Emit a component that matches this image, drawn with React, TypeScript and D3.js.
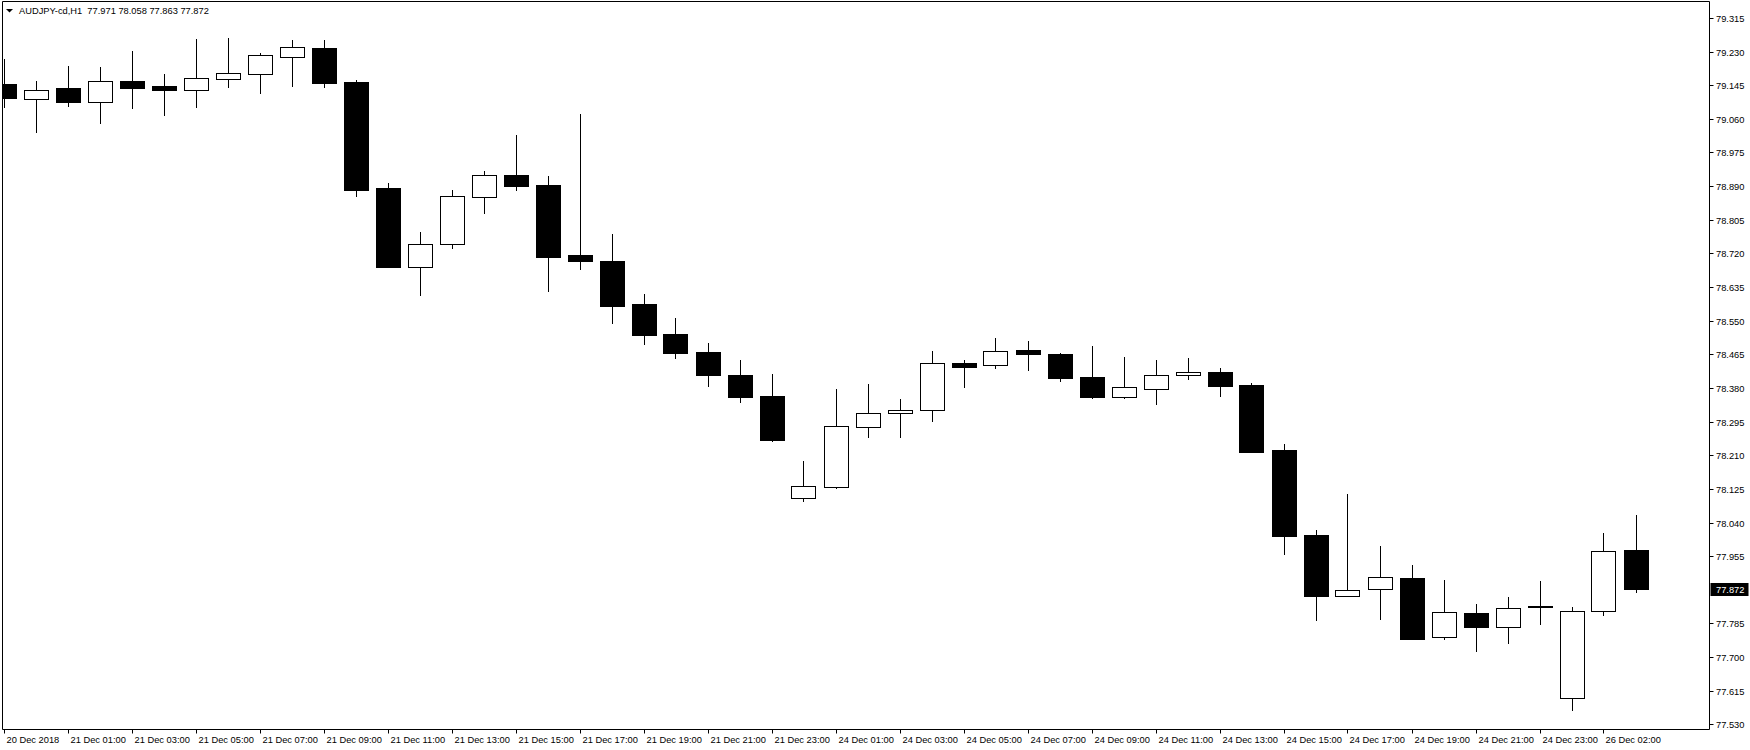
import React from "react";
import * as d3 from "d3";

const symbolTitle = "AUDJPY-cd,H1";
const lastQuote = [77.971, 78.058, 77.863, 77.872];

const opens = [79.148, 79.111, 79.138, 79.103, 79.156, 79.143, 79.134, 79.161, 79.172, 79.217, 79.239, 79.153, 78.885, 78.686, 78.745, 78.862, 78.917, 78.892, 78.715, 78.7, 78.591, 78.516, 78.471, 78.414, 78.359, 78.101, 78.129, 78.281, 78.318, 78.324, 78.443, 78.437, 78.476, 78.466, 78.407, 78.356, 78.377, 78.412, 78.42, 78.388, 78.223, 78.009, 77.854, 77.871, 77.9, 77.75, 77.811, 77.775, 77.826, 77.596, 77.816, 77.971];
const highs = [79.211, 79.156, 79.194, 79.191, 79.231, 79.173, 79.262, 79.264, 79.226, 79.259, 79.259, 79.158, 78.898, 78.774, 78.88, 78.928, 79.019, 78.915, 79.072, 78.769, 78.617, 78.557, 78.494, 78.451, 78.415, 78.196, 78.377, 78.39, 78.352, 78.473, 78.451, 78.506, 78.499, 78.469, 78.486, 78.458, 78.451, 78.456, 78.43, 78.393, 78.238, 78.021, 78.112, 77.981, 77.933, 77.895, 77.834, 77.852, 77.892, 77.827, 78.014, 78.058];
const lows = [79.087, 79.023, 79.09, 79.048, 79.085, 79.067, 79.087, 79.138, 79.123, 79.14, 79.138, 78.862, 78.684, 78.613, 78.732, 78.82, 78.878, 78.623, 78.679, 78.542, 78.489, 78.452, 78.383, 78.343, 78.244, 78.093, 78.126, 78.254, 78.254, 78.295, 78.381, 78.429, 78.424, 78.396, 78.353, 78.353, 78.338, 78.401, 78.358, 78.217, 77.959, 77.79, 77.854, 77.795, 77.744, 77.744, 77.714, 77.734, 77.782, 77.565, 77.805, 77.863];
const closes = [79.113, 79.134, 79.103, 79.156, 79.138, 79.133, 79.162, 79.175, 79.221, 79.241, 79.151, 78.881, 78.686, 78.745, 78.864, 78.917, 78.891, 78.712, 78.702, 78.588, 78.515, 78.469, 78.414, 78.358, 78.249, 78.132, 78.283, 78.318, 78.324, 78.442, 78.434, 78.473, 78.467, 78.406, 78.358, 78.382, 78.412, 78.42, 78.386, 78.219, 78.007, 77.855, 77.869, 77.902, 77.747, 77.813, 77.775, 77.823, 77.83, 77.816, 77.967, 77.872];

const timeTickIndex = [0, 2, 4, 6, 8, 10, 12, 14, 16, 18, 20, 22, 24, 26, 28, 30, 32, 34, 36, 38, 40, 42, 44, 46, 48, 50];
const timeTickLabels = [
  "20 Dec 2018", "21 Dec 01:00", "21 Dec 03:00", "21 Dec 05:00", "21 Dec 07:00", "21 Dec 09:00",
  "21 Dec 11:00", "21 Dec 13:00", "21 Dec 15:00", "21 Dec 17:00", "21 Dec 19:00", "21 Dec 21:00",
  "21 Dec 23:00", "24 Dec 01:00", "24 Dec 03:00", "24 Dec 05:00", "24 Dec 07:00", "24 Dec 09:00",
  "24 Dec 11:00", "24 Dec 13:00", "24 Dec 15:00", "24 Dec 17:00", "24 Dec 19:00", "24 Dec 21:00",
  "24 Dec 23:00", "26 Dec 02:00",
];
const priceTicks = [79.315, 79.23, 79.145, 79.06, 78.975, 78.89, 78.805, 78.72, 78.635, 78.55, 78.465, 78.38, 78.295, 78.21, 78.125, 78.04, 77.955, 77.785, 77.7, 77.615, 77.53];

const W = 1750;
const H = 750;
const left = 2.5;
const top = 1.5;
const right = 1709.5;
const bottom = 729.5;
const FONT = "'Liberation Sans', Arial, sans-serif";
const FS = 9.3;

export default function App() {
  const x = d3.scaleLinear().domain([0, 51]).range([3.5, 1635.5]);
  const y = d3.scaleLinear().domain([77.53, 79.315]).range([724.4, 17.9]);
  const bodyHalf = 12;
  const lastClose = closes[closes.length - 1];
  const lastY = y(lastClose);

  return (
    <svg
      width={W}
      height={H}
      style={{ position: "absolute", left: 0, top: 0, display: "block", background: "#fff" }}
      fontFamily={FONT}
    >
      <rect x={0} y={0} width={W} height={H} fill="#fff" />
      <defs>
        <clipPath id="plotClip">
          <rect x={left} y={top} width={right - left} height={bottom - top} />
        </clipPath>
      </defs>
      <g clipPath="url(#plotClip)">
        {opens.map((o, i) => {
          const c = closes[i];
          const cx = Math.round(x(i)) + 0.5;
          const bull = c >= o;
          const yTop = Math.round(y(Math.max(o, c)));
          const yBot = Math.round(y(Math.min(o, c)));
          const hgt = Math.max(yBot - yTop, 1);
          return (
            <g key={i}>
              <line
                x1={cx}
                x2={cx}
                y1={Math.round(y(highs[i]))}
                y2={Math.round(y(lows[i]))}
                stroke="#000"
                strokeWidth={1}
              />
              <rect
                x={cx - bodyHalf}
                y={yTop + 0.5}
                width={bodyHalf * 2}
                height={hgt}
                fill={bull ? "#fff" : "#000"}
                stroke="#000"
                strokeWidth={1}
              />
            </g>
          );
        })}
      </g>
      <path
        d={`M${left},${bottom} L${left},${top} L${right},${top} L${right},${bottom} Z`}
        fill="none"
        stroke="#000"
        strokeWidth={1}
      />
      {priceTicks.map((p) => {
        const py = Math.round(y(p)) + 0.5;
        return (
          <g key={p}>
            <line x1={right} x2={right + 4} y1={py} y2={py} stroke="#000" />
            <text x={right + 6.5} y={py} dy="0.35em" fontSize={FS} fill="#000">
              {p.toFixed(3)}
            </text>
          </g>
        );
      })}
      <rect x={right + 1} y={Math.round(lastY) - 6} width={38} height={13} fill="#000" />
      <text x={right + 6.5} y={Math.round(lastY) + 0.5} dy="0.35em" fontSize={FS} fill="#fff">
        {lastClose.toFixed(3)}
      </text>
      {timeTickIndex.map((ti, k) => {
        const tx = Math.round(x(ti)) + 0.5;
        return (
          <g key={ti}>
            <line x1={tx} x2={tx} y1={bottom} y2={bottom + 4} stroke="#000" />
            <text x={tx + 2} y={743} fontSize={FS} fill="#000">
              {timeTickLabels[k]}
            </text>
          </g>
        );
      })}
      <polygon points="6,9 13,9 9.5,12.5" fill="#000" />
      <text x={19} y={14} fontSize={FS} fill="#000">
        {`${symbolTitle}\u00a0\u00a0${lastQuote.map((v) => v.toFixed(3)).join(" ")}`}
      </text>
    </svg>
  );
}
